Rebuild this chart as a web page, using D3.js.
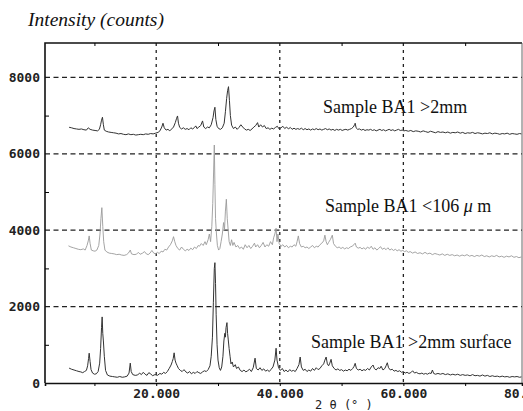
<!DOCTYPE html>
<html>
<head>
<meta charset="utf-8">
<script src="https://cdn.jsdelivr.net/npm/d3@7"></script>
<style>
  body { margin: 0; background: #fff; }
  svg { display: block; }
</style>
</head>
<body>
<div id="chart"></div>
<script>
// 2-theta (deg), intensity (counts)
const surface = [
  [5.9,390],[6.3,360],[6.7,340],[7.1,320],[7.5,300],[7.8,290],[8.1,270],[8.4,300],[8.7,330],[8.9,450],[9.05,640],[9.15,780],[9.3,560],[9.45,350],[9.7,260],[10.0,230],[10.3,240],[10.6,300],[10.85,520],[11.0,900],[11.15,1450],[11.25,1730],[11.35,1300],[11.45,1100],[11.6,700],[11.8,330],[12.1,210],[12.5,180],[12.9,170],[13.3,160],[13.7,150],[14.1,170],[14.5,150],[14.9,160],[15.3,180],[15.6,260],[15.8,520],[15.95,300],[16.2,220],[16.6,200],[17.0,210],[17.3,260],[17.6,220],[17.9,280],[18.2,230],[18.5,200],[18.8,270],[19.1,240],[19.4,190],[19.8,220],[20.2,200],[20.6,250],[20.9,230],[21.2,280],[21.5,250],[21.8,300],[22.1,380],[22.4,470],[22.6,560],[22.75,640],[22.9,790],[23.05,600],[23.2,520],[23.4,450],[23.6,380],[23.9,330],[24.2,300],[24.5,350],[24.8,290],[25.1,260],[25.4,300],[25.7,240],[26.0,280],[26.3,250],[26.6,300],[26.9,270],[27.2,250],[27.5,290],[27.8,320],[28.1,300],[28.4,350],[28.7,450],[28.9,700],[29.1,1200],[29.25,2100],[29.4,3000],[29.5,3150],[29.6,2600],[29.7,1800],[29.85,1000],[30.0,600],[30.2,400],[30.4,330],[30.6,420],[30.8,700],[30.95,1100],[31.1,1300],[31.2,1200],[31.3,1450],[31.45,1580],[31.55,1300],[31.65,1150],[31.8,900],[31.95,700],[32.1,500],[32.3,550],[32.5,420],[32.8,480],[33.0,380],[33.3,420],[33.6,330],[33.9,300],[34.2,340],[34.5,290],[34.8,320],[35.1,360],[35.4,300],[35.7,400],[36.0,650],[36.2,380],[36.5,340],[36.8,400],[37.1,330],[37.4,370],[37.7,310],[38.0,340],[38.3,300],[38.6,360],[38.9,420],[39.2,600],[39.4,910],[39.55,600],[39.8,400],[40.1,330],[40.4,380],[40.7,300],[41.0,340],[41.3,290],[41.6,350],[41.9,310],[42.2,330],[42.5,300],[42.8,380],[43.1,480],[43.3,680],[43.5,420],[43.8,330],[44.1,360],[44.4,300],[44.7,340],[45.0,310],[45.3,380],[45.6,330],[45.9,400],[46.2,350],[46.5,380],[46.8,450],[47.1,500],[47.3,600],[47.5,680],[47.7,500],[47.9,450],[48.1,520],[48.3,620],[48.5,450],[48.8,380],[49.1,340],[49.4,370],[49.7,330],[50.0,350],[50.3,310],[50.6,340],[50.9,320],[51.2,360],[51.5,330],[51.8,380],[52.0,430],[52.2,515],[52.4,380],[52.7,340],[53.0,360],[53.3,320],[53.6,350],[53.9,330],[54.2,380],[54.5,340],[54.8,420],[55.1,470],[55.3,380],[55.6,340],[55.9,400],[56.2,380],[56.4,440],[56.7,340],[57.0,380],[57.2,450],[57.4,530],[57.6,400],[57.9,340],[58.2,360],[58.5,310],[58.8,330],[59.1,300],[59.4,320],[59.7,280],[60.0,300],[60.3,260],[60.6,280],[60.9,250],[61.2,270],[61.5,320],[61.8,260],[62.1,280],[62.4,250],[62.7,240],[63.0,260],[63.3,230],[63.6,250],[63.9,230],[64.2,260],[64.5,250],[64.7,340],[64.9,250],[65.2,230],[65.6,250],[66.0,230],[66.4,250],[66.8,220],[67.2,240],[67.6,210],[68.0,230],[68.4,210],[68.8,230],[69.2,200],[69.6,220],[70.0,200],[70.4,210],[70.8,190],[71.2,220],[71.6,190],[72.0,200],[72.4,180],[72.8,210],[73.2,180],[73.6,200],[74.0,170],[74.4,190],[74.8,170],[75.2,180],[75.6,160],[76.0,180],[76.4,160],[76.8,170],[77.2,150],[77.6,170],[78.0,160],[78.4,170],[78.8,150],[79.1,160]
];

const fine = [
  [5.8,3590],[6.2,3560],[6.6,3540],[7.0,3520],[7.4,3500],[7.8,3490],[8.2,3510],[8.5,3480],[8.8,3600],[9.0,3720],[9.15,3850],[9.3,3650],[9.5,3480],[9.8,3460],[10.1,3450],[10.4,3480],[10.7,3600],[10.9,3900],[11.05,4300],[11.2,4590],[11.35,4100],[11.5,3700],[11.7,3480],[12.0,3430],[12.4,3400],[12.8,3390],[13.2,3380],[13.6,3360],[14.0,3370],[14.4,3350],[14.8,3340],[15.2,3360],[15.5,3400],[15.8,3480],[16.0,3380],[16.4,3360],[16.8,3370],[17.1,3420],[17.4,3370],[17.8,3400],[18.1,3440],[18.4,3380],[18.7,3360],[19.0,3400],[19.3,3470],[19.6,3400],[19.9,3380],[20.2,3420],[20.5,3390],[20.8,3450],[21.1,3430],[21.4,3500],[21.7,3480],[22.0,3560],[22.3,3620],[22.6,3720],[22.8,3830],[23.0,3700],[23.2,3600],[23.5,3520],[23.8,3480],[24.1,3560],[24.4,3500],[24.7,3460],[25.0,3500],[25.3,3470],[25.6,3530],[25.9,3490],[26.2,3560],[26.5,3520],[26.8,3600],[27.0,3580],[27.3,3650],[27.6,3600],[27.9,3700],[28.1,3620],[28.4,3750],[28.6,3900],[28.8,3700],[29.0,4100],[29.15,4700],[29.3,5600],[29.4,6230],[29.5,5200],[29.6,4300],[29.75,3900],[29.9,3600],[30.1,3480],[30.3,3520],[30.5,3700],[30.7,3900],[30.9,4200],[31.05,4000],[31.2,4500],[31.35,4810],[31.5,4300],[31.65,4000],[31.8,3700],[32.0,3600],[32.2,3750],[32.4,3600],[32.6,3680],[32.9,3560],[33.2,3600],[33.5,3520],[33.8,3560],[34.1,3500],[34.4,3620],[34.7,3540],[35.0,3600],[35.3,3520],[35.6,3580],[35.9,3660],[36.1,3560],[36.4,3620],[36.7,3540],[37.0,3600],[37.3,3680],[37.6,3560],[37.9,3620],[38.2,3580],[38.5,3700],[38.8,3620],[39.0,3800],[39.2,3900],[39.4,4050],[39.55,3700],[39.7,3900],[39.9,3650],[40.2,3580],[40.5,3620],[40.8,3560],[41.1,3600],[41.4,3540],[41.7,3580],[42.0,3560],[42.3,3620],[42.6,3580],[42.8,3700],[43.0,3850],[43.2,3650],[43.5,3560],[43.8,3580],[44.1,3540],[44.4,3560],[44.7,3520],[45.0,3560],[45.3,3600],[45.6,3540],[45.9,3580],[46.2,3560],[46.5,3620],[46.8,3660],[47.1,3720],[47.3,3870],[47.5,3700],[47.7,3620],[47.9,3680],[48.2,3760],[48.5,3870],[48.7,3650],[49.0,3580],[49.3,3540],[49.6,3560],[49.9,3520],[50.2,3550],[50.5,3510],[50.8,3540],[51.1,3520],[51.4,3560],[51.7,3580],[52.0,3620],[52.2,3660],[52.4,3560],[52.7,3530],[53.0,3550],[53.3,3510],[53.6,3540],[53.9,3500],[54.2,3560],[54.5,3520],[54.8,3580],[55.1,3500],[55.4,3540],[55.7,3480],[56.0,3520],[56.3,3570],[56.6,3500],[56.9,3530],[57.2,3490],[57.5,3540],[57.8,3480],[58.1,3510],[58.4,3470],[58.7,3500],[59.0,3460],[59.3,3490],[59.6,3450],[59.9,3470],[60.2,3440],[60.5,3460],[60.8,3420],[61.1,3440],[61.5,3400],[61.9,3430],[62.3,3390],[62.7,3410],[63.1,3380],[63.5,3420],[63.9,3380],[64.3,3400],[64.7,3360],[65.1,3390],[65.5,3370],[65.9,3350],[66.3,3380],[66.7,3340],[67.1,3370],[67.5,3340],[67.9,3360],[68.3,3330],[68.7,3350],[69.1,3320],[69.5,3350],[69.9,3330],[70.3,3360],[70.7,3320],[71.1,3340],[71.5,3310],[71.9,3340],[72.3,3320],[72.7,3350],[73.1,3310],[73.5,3330],[73.9,3300],[74.3,3330],[74.7,3310],[75.1,3340],[75.5,3300],[75.9,3320],[76.3,3290],[76.7,3320],[77.1,3300],[77.5,3330],[77.9,3290],[78.3,3310],[78.7,3280],[79.1,3300]
];

const coarse = [
  [5.9,6694],[6.3,6680],[6.7,6660],[7.1,6650],[7.5,6640],[7.9,6650],[8.3,6630],[8.7,6620],[9.0,6680],[9.3,6640],[9.7,6620],[10.1,6610],[10.5,6600],[10.8,6640],[11.0,6760],[11.15,6880],[11.3,6956],[11.45,6760],[11.6,6620],[11.9,6590],[12.3,6570],[12.7,6560],[13.1,6550],[13.5,6540],[13.9,6520],[14.3,6530],[14.7,6510],[15.1,6500],[15.5,6520],[15.9,6500],[16.3,6510],[16.7,6490],[17.1,6500],[17.5,6510],[17.9,6500],[18.3,6520],[18.7,6510],[19.1,6530],[19.5,6520],[19.9,6540],[20.3,6560],[20.6,6600],[20.9,6700],[21.1,6800],[21.3,6680],[21.6,6620],[21.9,6640],[22.2,6600],[22.5,6650],[22.8,6700],[23.1,6820],[23.3,6930],[23.45,6990],[23.6,6800],[23.8,6690],[24.1,6650],[24.4,6680],[24.7,6640],[25.0,6660],[25.3,6630],[25.6,6680],[25.9,6650],[26.2,6690],[26.4,6730],[26.6,6660],[26.9,6700],[27.2,6740],[27.5,6860],[27.7,6700],[28.0,6660],[28.3,6700],[28.6,6680],[28.9,6760],[29.2,6950],[29.35,7120],[29.5,7218],[29.65,6900],[29.85,6720],[30.1,6660],[30.4,6640],[30.7,6680],[31.0,6800],[31.2,7100],[31.4,7450],[31.55,7650],[31.7,7757],[31.85,7400],[32.0,7000],[32.2,6750],[32.5,6660],[32.8,6700],[33.1,6640],[33.4,6690],[33.7,6760],[34.0,6700],[34.3,6650],[34.6,6620],[34.9,6640],[35.2,6610],[35.5,6650],[35.8,6700],[36.1,6740],[36.4,6815],[36.6,6700],[36.9,6760],[37.2,6700],[37.5,6740],[37.8,6660],[38.1,6680],[38.4,6640],[38.7,6670],[39.0,6650],[39.3,6690],[39.6,6720],[39.9,6650],[40.2,6680],[40.5,6720],[40.8,6660],[41.1,6700],[41.4,6650],[41.7,6690],[42.0,6640],[42.3,6670],[42.6,6640],[42.9,6660],[43.2,6640],[43.5,6670],[43.8,6630],[44.1,6660],[44.4,6630],[44.7,6650],[45.0,6620],[45.3,6650],[45.6,6630],[45.9,6660],[46.2,6630],[46.5,6650],[46.8,6620],[47.1,6640],[47.4,6660],[47.7,6630],[48.0,6650],[48.3,6620],[48.6,6640],[48.9,6610],[49.2,6640],[49.5,6620],[49.8,6640],[50.1,6610],[50.4,6630],[50.7,6640],[51.0,6620],[51.3,6640],[51.6,6660],[51.9,6700],[52.1,6760],[52.2,6800],[52.35,6680],[52.6,6640],[52.9,6650],[53.2,6620],[53.5,6640],[53.8,6610],[54.1,6630],[54.4,6620],[54.7,6640],[55.0,6610],[55.3,6630],[55.6,6600],[55.9,6620],[56.2,6640],[56.5,6610],[56.8,6630],[57.1,6600],[57.4,6620],[57.7,6640],[58.0,6610],[58.3,6630],[58.6,6600],[58.9,6620],[59.2,6640],[59.5,6610],[59.8,6620],[60.1,6600],[60.4,6610],[60.8,6590],[61.2,6610],[61.6,6580],[62.0,6600],[62.4,6590],[62.8,6570],[63.2,6600],[63.6,6580],[64.0,6560],[64.4,6590],[64.8,6570],[65.2,6550],[65.6,6580],[66.0,6560],[66.4,6570],[66.8,6550],[67.2,6570],[67.6,6540],[68.0,6560],[68.4,6550],[68.8,6570],[69.2,6540],[69.6,6560],[70.0,6530],[70.4,6550],[70.8,6540],[71.2,6560],[71.6,6530],[72.0,6550],[72.4,6540],[72.8,6520],[73.2,6540],[73.6,6530],[74.0,6550],[74.4,6520],[74.8,6540],[75.2,6530],[75.6,6510],[76.0,6530],[76.4,6520],[76.8,6540],[77.2,6510],[77.6,6530],[78.0,6520],[78.4,6510],[78.8,6530],[79.1,6520]
];

const yTicks = [0, 2000, 4000, 6000, 8000];
const yMinor = [1000, 3000, 5000, 7000];
const xTicks = [20, 40, 60, 80];
const xTickLabels = ["20.000", "40.000", "60.000", "80.000"];
const xMinor = [10, 30, 50, 70];

const W = 523, H = 411;
const plotLeft = 45, plotRight = 522, plotTop = 43, plotBottom = 383;

const svg = d3.select("#chart").append("svg")
    .attr("width", W)
    .attr("height", H);

const x = d3.scaleLinear().domain([2, 79.2]).range([plotLeft, plotRight]);
const y = d3.scaleLinear().domain([0, 8900]).range([plotBottom, plotTop]);

// dashed grid
svg.append("g")
    .selectAll("line")
    .data(yTicks.filter(d => d > 0))
    .join("line")
    .attr("x1", plotLeft).attr("x2", plotRight)
    .attr("y1", d => y(d)).attr("y2", d => y(d))
    .attr("stroke", "#222")
    .attr("stroke-width", 1.3)
    .attr("stroke-dasharray", "5,3.5");

svg.append("g")
    .selectAll("line")
    .data(xTicks.filter(d => x(d) < plotRight))
    .join("line")
    .attr("x1", d => x(d)).attr("x2", d => x(d))
    .attr("y1", plotTop).attr("y2", plotBottom)
    .attr("stroke", "#222")
    .attr("stroke-width", 1.3)
    .attr("stroke-dasharray", "3,4");

// frame
svg.append("path")
    .attr("d", `M${plotLeft},${plotBottom}V${plotTop}H${plotRight}`)
    .attr("fill", "none")
    .attr("stroke", "#111")
    .attr("stroke-width", 1.6);
svg.append("line")
    .attr("x1", plotRight).attr("x2", plotRight)
    .attr("y1", plotTop).attr("y2", plotBottom)
    .attr("stroke", "#555")
    .attr("stroke-width", 0.9);

// axes
const axisFont = "'DejaVu Sans Mono', monospace";

const xAxis = svg.append("g")
    .attr("transform", `translate(0,${plotBottom})`)
    .call(d3.axisBottom(x).tickValues(xTicks).tickFormat((d, i) => xTickLabels[i]).tickSize(3).tickPadding(3));
xAxis.select(".domain").attr("stroke", "#111").attr("stroke-width", 1.6);
xAxis.selectAll("text").attr("font-family", axisFont).attr("font-size", 13).attr("font-weight", "bold").attr("fill", "#222");

svg.append("g")
    .attr("transform", `translate(0,${plotBottom})`)
    .call(d3.axisBottom(x).tickValues(xMinor).tickFormat("").tickSize(3))
    .call(g => g.select(".domain").remove());

svg.append("g")
    .attr("transform", `translate(0,${plotTop})`)
    .call(d3.axisBottom(x).tickValues(xMinor).tickFormat("").tickSize(3))
    .call(g => g.select(".domain").remove());

const yAxis = svg.append("g")
    .attr("transform", `translate(${plotLeft},0)`)
    .call(d3.axisLeft(y).tickValues(yTicks).tickFormat(d3.format("d")).tickSize(0).tickPadding(5));
yAxis.select(".domain").remove();
yAxis.selectAll("text").attr("font-family", axisFont).attr("font-size", 13).attr("font-weight", "bold").attr("fill", "#222");

svg.append("g")
    .attr("transform", `translate(${plotLeft},0)`)
    .call(d3.axisRight(y).tickValues(yMinor).tickFormat("").tickSize(4))
    .call(g => g.select(".domain").remove());

// patterns
const line = d3.line()
    .x(d => x(d[0]))
    .y(d => y(d[1]));

svg.append("path").datum(fine)
    .attr("d", line)
    .attr("fill", "none")
    .attr("stroke", "#9a9a9a")
    .attr("stroke-width", 0.9);

svg.append("path").datum(coarse)
    .attr("d", line)
    .attr("fill", "none")
    .attr("stroke", "#333")
    .attr("stroke-width", 1);

svg.append("path").datum(surface)
    .attr("d", line)
    .attr("fill", "none")
    .attr("stroke", "#333")
    .attr("stroke-width", 1);

// titles and labels
const serif = "'Liberation Serif', 'Times New Roman', serif";

svg.append("text")
    .attr("x", 28).attr("y", 26)
    .attr("font-family", serif)
    .attr("font-style", "italic")
    .attr("font-size", 19.5)
    .attr("fill", "#111")
    .text("Intensity (counts)");

svg.append("text")
    .attr("x", 315).attr("y", 409)
    .attr("font-family", axisFont)
    .attr("font-size", 12)
    .attr("fill", "#222")
    .text("2 θ (° )");

svg.append("text")
    .attr("x", 323).attr("y", 113)
    .attr("font-family", serif)
    .attr("font-size", 18)
    .attr("fill", "#111")
    .text("Sample BA1 >2mm");

const t2 = svg.append("text")
    .attr("x", 325).attr("y", 212)
    .attr("font-family", serif)
    .attr("font-size", 18)
    .attr("fill", "#111");
t2.append("tspan").text("Sample BA1 <106 ");
t2.append("tspan").attr("font-style", "italic").text("μ");
t2.append("tspan").text(" m");

svg.append("text")
    .attr("x", 311).attr("y", 348)
    .attr("font-family", serif)
    .attr("font-size", 18)
    .attr("fill", "#111")
    .text("Sample BA1 >2mm surface");
</script>
</body>
</html>
